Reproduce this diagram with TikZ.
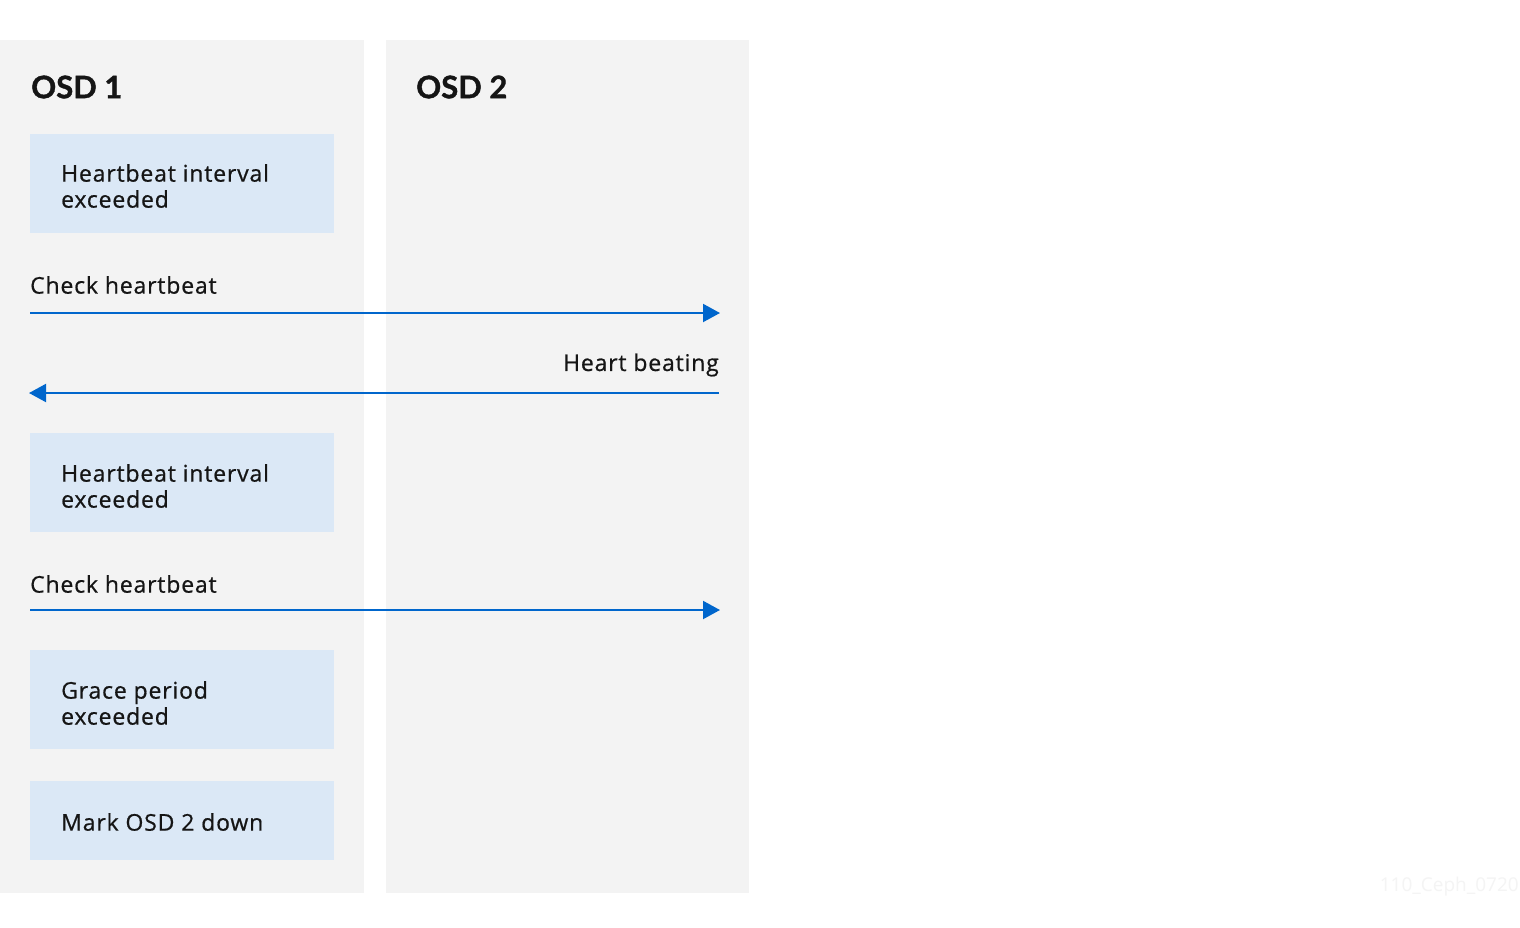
\documentclass[tikz,border=0pt]{standalone}
\usepackage{fontspec}
\setmainfont{Open Sans}[LetterSpace=3.6,UprightFeatures={FakeBold=0.7}]
\newfontfamily\titlefont{Lato}[BoldFeatures={FakeBold=1.2}]
\newfontfamily\wmfont{Open Sans}
\usetikzlibrary{arrows.meta}
\definecolor{colbg}{HTML}{F3F3F3}
\definecolor{boxbg}{HTML}{DBE8F6}
\definecolor{arrowblue}{HTML}{0066CC}
\definecolor{txt}{HTML}{151515}
\definecolor{wm}{HTML}{F4F4F4}
\begin{document}
\begin{tikzpicture}[x=1pt,y=-1pt,
  title/.style={anchor=west,inner sep=0pt,font=\titlefont\fontsize{31}{36}\selectfont\bfseries,text=txt},
  stepbox/.style={fill=boxbg,draw=none,minimum width=304pt,minimum height=#1,anchor=north west,inner sep=0pt},
  boxtext/.style={anchor=west,inner sep=0pt,align=left,font=\fontsize{23}{26}\selectfont,text=txt},
  lbl/.style={inner sep=0pt,font=\fontsize{23}{26}\selectfont,text=txt},
  msg/.style={draw=arrowblue,line width=2pt,-{Triangle[length=17pt,width=18pt]}}
]
\useasboundingbox (0,0) rectangle (1520,927);
\fill[white] (0,0) rectangle (1520,927);
\fill[colbg] (0,40) rectangle (364,893);
\fill[colbg] (386,40) rectangle (749,893);
\node[title] (t1) at (31,87) {OSD 1};
\node[title] (t2) at (416,87) {OSD 2};

\node[stepbox=99pt] (b1) at (30,134) {};
\node[boxtext] (b1t) at (61,186) {Heartbeat interval\\exceeded};
\node[stepbox=99pt] (b2) at (30,433) {};
\node[boxtext] (b2t) at (61,486) {Heartbeat interval\\exceeded};
\node[stepbox=99pt] (b3) at (30,650) {};
\node[boxtext] (b3t) at (61,703) {Grace period\\exceeded};
\node[stepbox=79pt] (b4) at (30,781) {};
\node[boxtext] (b4t) at (61,822) {Mark OSD 2 down};

\node[lbl,anchor=west] (l1) at (30,285) {Check heartbeat};
\node[lbl,anchor=east] (l2) at (719,365) {Heart beating};
\node[lbl,anchor=west] (l3) at (30,584) {Check heartbeat};

\coordinate (a1s) at (30,313); \coordinate (a1e) at (720,313);
\coordinate (a2s) at (719,393); \coordinate (a2e) at (29,393);
\coordinate (a3s) at (30,610); \coordinate (a3e) at (720,610);
\draw[msg] (a1s) -- (a1e);
\draw[msg] (a2s) -- (a2e);
\draw[msg] (a3s) -- (a3e);

\node[inner sep=0pt,anchor=east,font=\wmfont\fontsize{19}{24}\selectfont,text=wm] (wmk) at (1519,887) {110\_Ceph\_0720};
\end{tikzpicture}
\end{document}
